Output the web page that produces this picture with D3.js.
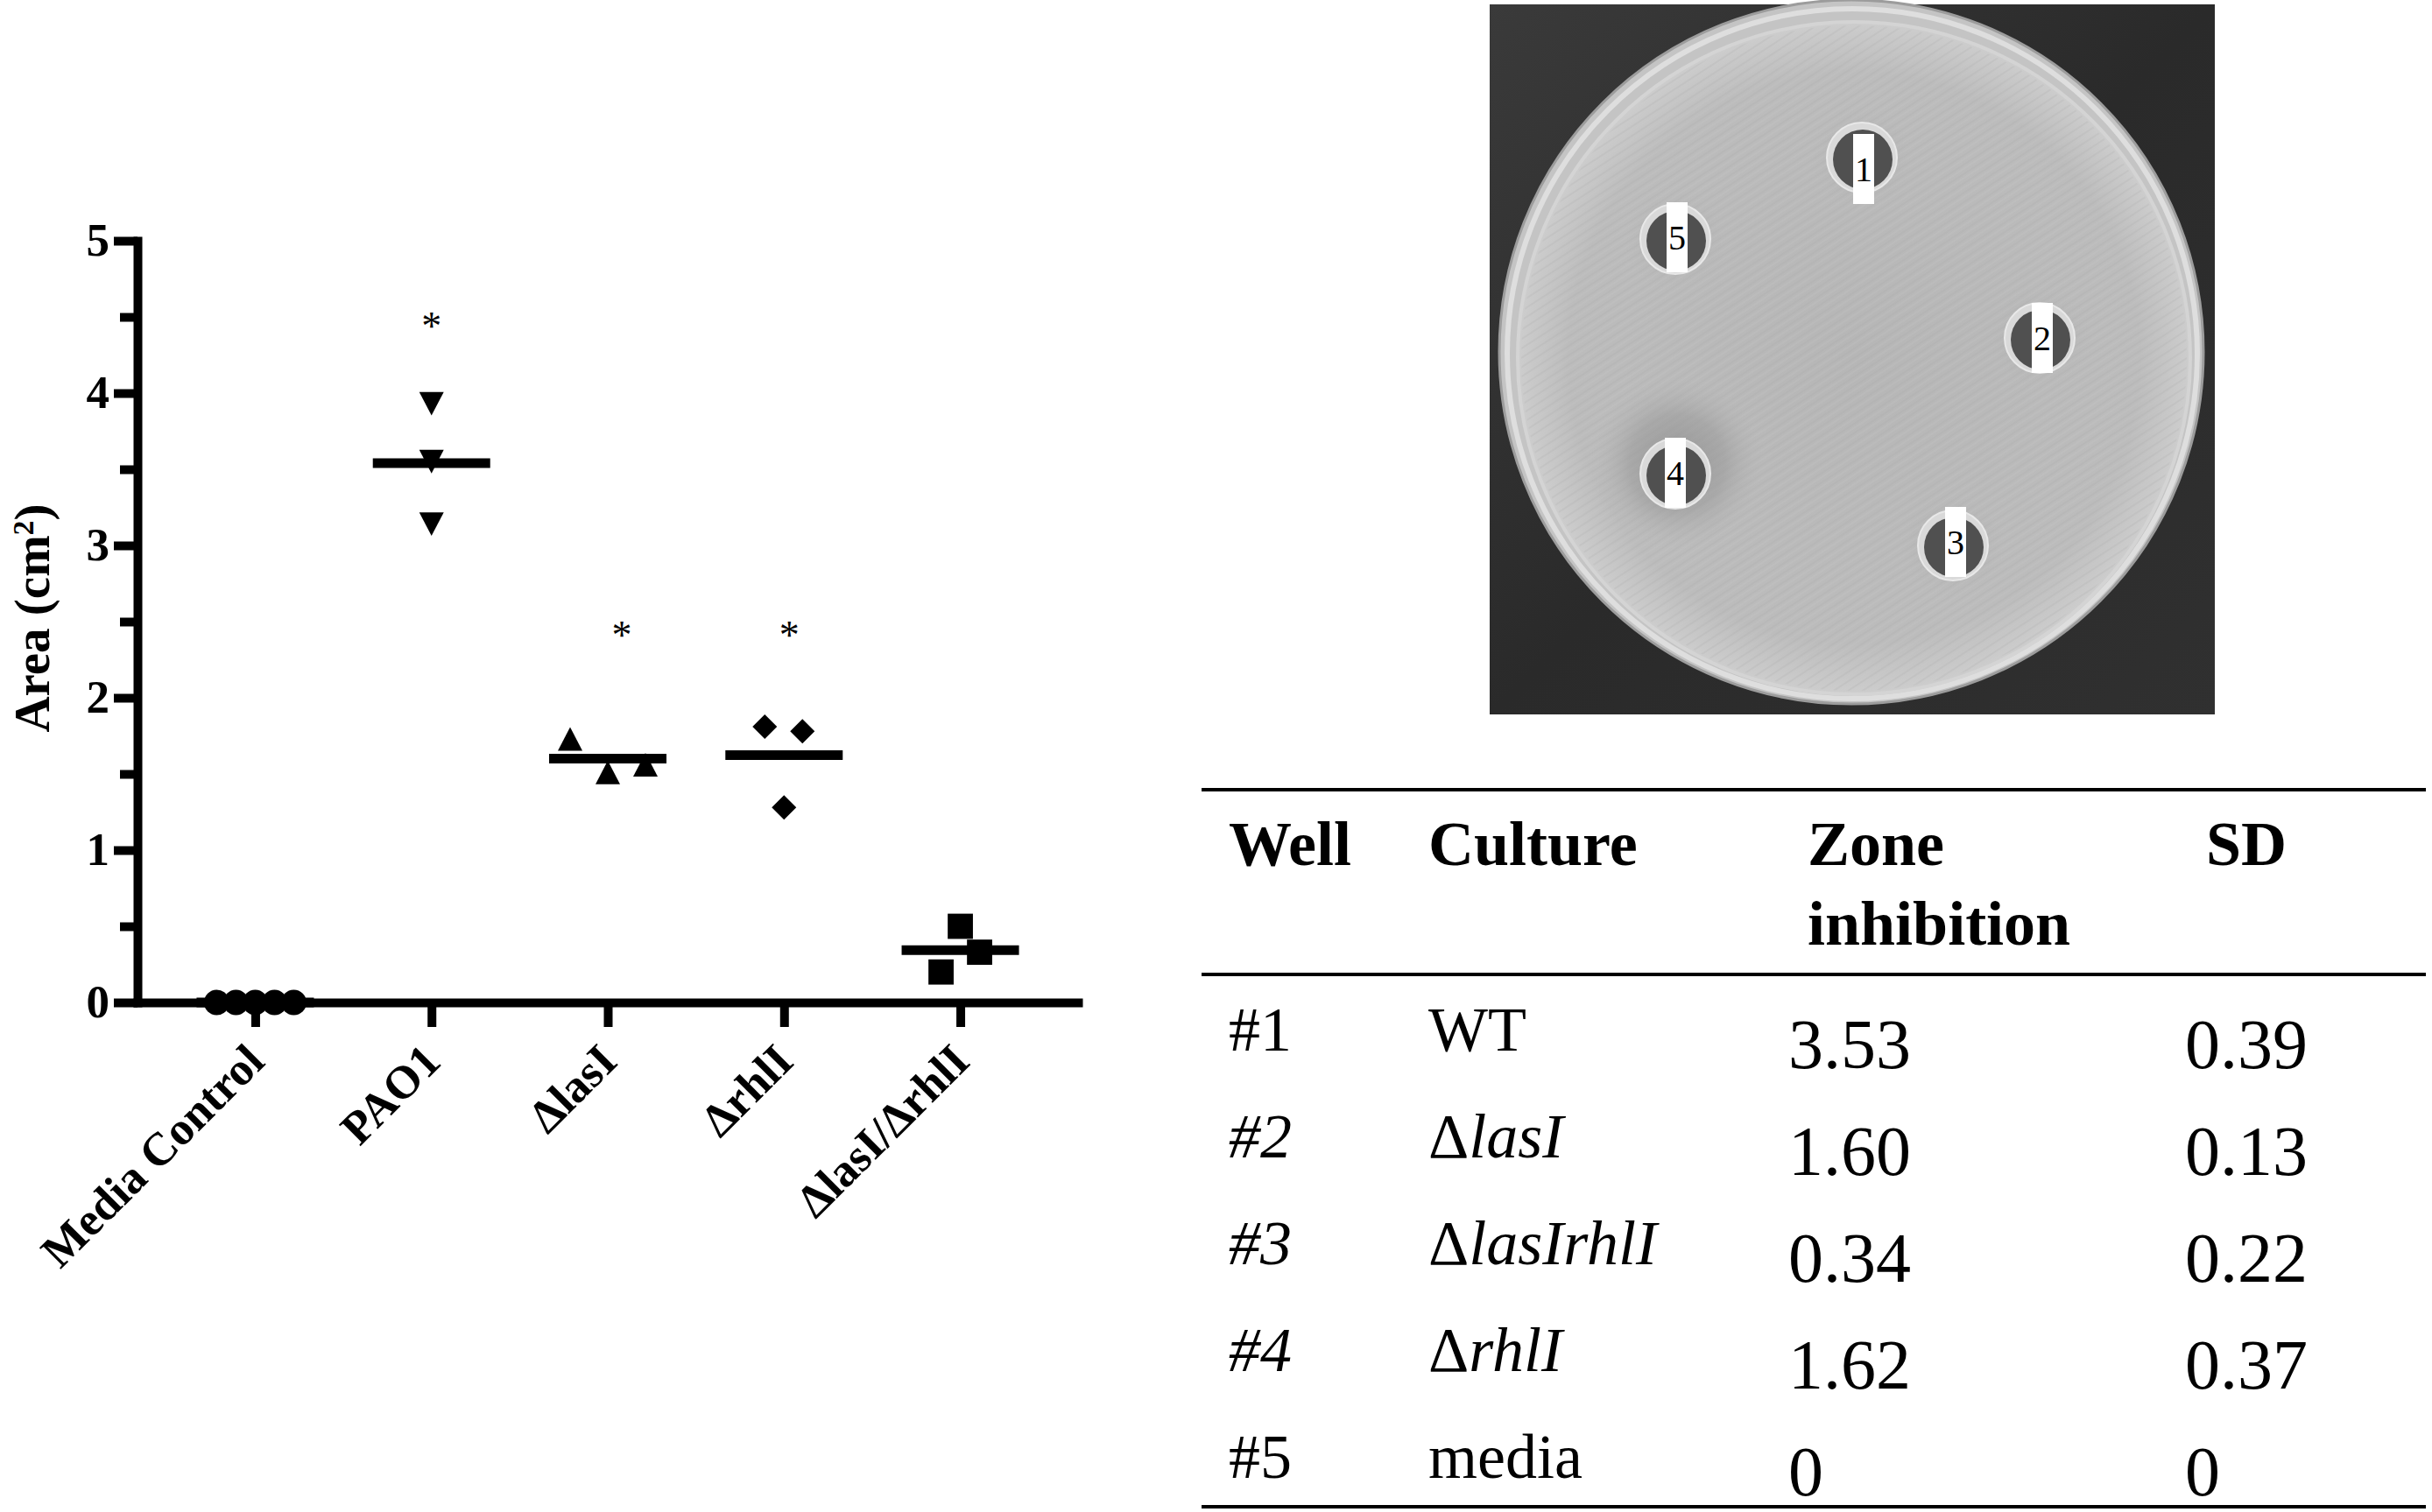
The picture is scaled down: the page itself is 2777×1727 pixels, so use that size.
<!DOCTYPE html>
<html>
<head>
<meta charset="utf-8">
<script src="https://cdn.jsdelivr.net/npm/d3@7"></script>
<style>
html,body{margin:0;padding:0;background:#fff;}
svg{display:block;}
</style>
</head>
<body>
<svg id="fig" width="2777" height="1727"></svg>
<script>
// ================= DATA =================
const categories = ["Media Control", "PAO1", "ΔlasI", "ΔrhlI", "ΔlasI/ΔrhlI"];
const mediaControl = [0, 0, 0, 0, 0];
const pao1 = [3.93, 3.55, 3.14];
const lasI = [1.73, 1.51, 1.56];
const rhlI = [1.81, 1.78, 1.28];
const lasIrhlI = [0.50, 0.33, 0.20];
const yTicks = [0, 1, 2, 3, 4, 5];
const yMinorTicks = [0.5, 1.5, 2.5, 3.5, 4.5];
const sigCategories = ["PAO1", "ΔlasI", "ΔrhlI"];
const sigLevels = [4.47, 2.445, 2.445];

const tableHeaders = ["Well", "Culture", "Zone", "SD"];
const tableHeader2 = ["", "", "inhibition", ""];
const wellIds = ["#1", "#2", "#3", "#4", "#5"];
const cultures = ["WT", "ΔlasI", "ΔlasIrhlI", "ΔrhlI", "media"];
const zoneMeans = [3.53, 1.60, 0.34, 1.62, 0];
const zoneSDs = [0.39, 0.13, 0.22, 0.37, 0];
const plateWells = ["1", "2", "3", "4", "5"];

// ================= LAYOUT (not data) =================
const SERIF = "'Liberation Serif','Times New Roman',Times,serif";
const seriesValues = [mediaControl, pao1, lasI, rhlI, lasIrhlI];
const jitter = [[-44, -22, 0, 22, 44], [0, 0, 0], [-43, 0, 43], [-22, 21, 0], [0, 22, -22]];
const sigDx = [0, 16, 6];
const wellItalic = [false, true, true, true, false];
const cultureParts = [
  [["WT", false]],
  [["Δ", false], ["lasI", true]],
  [["Δ", false], ["lasIrhlI", true]],
  [["Δ", false], ["rhlI", true]],
  [["media", false]]
];
const wellCenters = [[2126, 180], [2329, 386], [2230, 623], [1913, 541], [1913, 273]];
const wellTags = [[2128, 193], [2332, 386], [2233, 619], [1913, 540], [1915, 271]];

const svg = d3.select("#fig");
const defs = svg.append("defs");

// ================= SCATTER CHART =================
const x = d3.scalePoint().domain(categories).range([157, 1231]).padding(0.668);
const y = d3.scaleLinear().domain([0, 5]).range([1145, 275]);

// custom marker shapes (size = half-width)
const shapes = {
  circle: { draw(c, s) { c.moveTo(s, 0); c.arc(0, 0, s, 0, 2 * Math.PI); } },
  down: { draw(c, s) { c.moveTo(-s, -s * 0.96); c.lineTo(s, -s * 0.96); c.lineTo(0, s * 0.96); c.closePath(); } },
  up: { draw(c, s) { c.moveTo(-s, s * 0.96); c.lineTo(s, s * 0.96); c.lineTo(0, -s * 0.96); c.closePath(); } },
  diamond: { draw(c, s) { c.moveTo(0, -s); c.lineTo(s, 0); c.lineTo(0, s); c.lineTo(-s, 0); c.closePath(); } },
  square: { draw(c, s) { c.rect(-s, -s, 2 * s, 2 * s); } }
};
const markerType = [shapes.circle, shapes.down, shapes.up, shapes.diamond, shapes.square];
const markerSize = [14.5, 14, 14, 14, 14.4];

// Y axis
const gy = svg.append("g").attr("transform", "translate(157,0)")
  .call(d3.axisLeft(y).tickValues(yTicks).tickSize(27).tickSizeOuter(0).tickPadding(5).tickFormat(d3.format("d")));
gy.attr("font-size", 53).attr("font-family", SERIF).attr("font-weight", "bold");
gy.select(".domain").attr("stroke-width", 10).attr("stroke-linecap", "square").attr("stroke", "#000");
gy.selectAll(".tick line").attr("stroke-width", 10).attr("stroke", "#000");
gy.selectAll(".tick text").attr("fill", "#000");

const gyMinor = svg.append("g").attr("transform", "translate(157,0)")
  .call(d3.axisLeft(y).tickValues(yMinorTicks).tickSize(20).tickSizeOuter(0).tickFormat(""));
gyMinor.select(".domain").remove();
gyMinor.selectAll(".tick line").attr("stroke-width", 10).attr("stroke", "#000");

// X axis
const gx = svg.append("g").attr("transform", "translate(0,1145)")
  .call(d3.axisBottom(x).tickSize(28).tickSizeOuter(0).tickFormat(""));
gx.select(".domain").attr("stroke-width", 10).attr("stroke-linecap", "square").attr("stroke", "#000");
gx.selectAll(".tick line").attr("stroke-width", 10).attr("stroke", "#000");

// X labels (rotated)
svg.append("g").selectAll("text").data(categories).join("text")
  .attr("transform", d => `translate(${x(d) + 13},1215) rotate(-45)`)
  .attr("text-anchor", "end")
  .attr("font-family", SERIF).attr("font-weight", "bold").attr("font-size", 53)
  .attr("fill", "#000")
  .text(d => d);

// Y label
const yl = svg.append("text")
  .attr("transform", "translate(56,706) rotate(-90)")
  .attr("text-anchor", "middle")
  .attr("font-family", SERIF).attr("font-weight", "bold").attr("font-size", 57)
  .attr("fill", "#000");
yl.append("tspan").text("Area (cm");
yl.append("tspan").attr("font-size", 34).attr("baseline-shift", "super").text("2");
yl.append("tspan").text(")");

// mean lines
const meanG = svg.append("g");
categories.forEach((c, ci) => {
  const m = d3.mean(seriesValues[ci]);
  meanG.append("line")
    .attr("x1", x(c) - 67).attr("x2", x(c) + 67)
    .attr("y1", y(m)).attr("y2", y(m))
    .attr("stroke", "#000").attr("stroke-width", 11);
});

// points
const ptsG = svg.append("g");
categories.forEach((c, ci) => {
  ptsG.selectAll(null).data(seriesValues[ci]).join("path")
    .attr("transform", (v, i) => `translate(${x(c) + jitter[ci][i]},${y(v)})`)
    .attr("d", d3.symbol().type(markerType[ci]).size(markerSize[ci]))
    .attr("fill", "#000");
});

// significance asterisks
svg.append("g").selectAll("text").data(sigCategories).join("text")
  .attr("x", (c, i) => x(c) + sigDx[i])
  .attr("y", (c, i) => y(sigLevels[i]) + 21)
  .attr("text-anchor", "middle")
  .attr("font-family", SERIF).attr("font-size", 46).attr("fill", "#000")
  .text("*");

// ================= PHOTO (petri dish) =================
const photo = svg.append("g");
const pg = defs.append("radialGradient").attr("id", "agar").attr("cx", "50%").attr("cy", "50%").attr("r", "50%");
pg.append("stop").attr("offset", "0%").attr("stop-color", "#b6b6b6");
pg.append("stop").attr("offset", "85%").attr("stop-color", "#bcbcbc");
pg.append("stop").attr("offset", "100%").attr("stop-color", "#cdcdcd");

const halo = defs.append("radialGradient").attr("id", "halo");
halo.append("stop").attr("offset", "0%").attr("stop-color", "#8e8e8e").attr("stop-opacity", 0.8);
halo.append("stop").attr("offset", "55%").attr("stop-color", "#9a9a9a").attr("stop-opacity", 0.55);
halo.append("stop").attr("offset", "100%").attr("stop-color", "#b8b8b8").attr("stop-opacity", 0);

const halo2 = defs.append("radialGradient").attr("id", "halo2");
halo2.append("stop").attr("offset", "0%").attr("stop-color", "#a4a4a4").attr("stop-opacity", 0.6);
halo2.append("stop").attr("offset", "100%").attr("stop-color", "#b8b8b8").attr("stop-opacity", 0);

const streak = defs.append("pattern").attr("id", "streaks").attr("patternUnits", "userSpaceOnUse")
  .attr("width", 9).attr("height", 9).attr("patternTransform", "rotate(-33)");
streak.append("line").attr("x1", 0).attr("y1", 2).attr("x2", 9).attr("y2", 2)
  .attr("stroke", "#a9a9a9").attr("stroke-width", 1.2);
streak.append("line").attr("x1", 0).attr("y1", 6).attr("x2", 9).attr("y2", 6)
  .attr("stroke", "#cacaca").attr("stroke-width", 1);

const bgGrad = defs.append("linearGradient").attr("id", "bg").attr("x1", 0).attr("y1", 0).attr("x2", 1).attr("y2", 1);
bgGrad.append("stop").attr("offset", "0%").attr("stop-color", "#3a3a3a");
bgGrad.append("stop").attr("offset", "50%").attr("stop-color", "#2a2a2a");
bgGrad.append("stop").attr("offset", "100%").attr("stop-color", "#303030");

photo.append("rect").attr("x", 1701).attr("y", 5).attr("width", 828).attr("height", 811).attr("fill", "url(#bg)");
// outer dish rim
photo.append("circle").attr("cx", 2114).attr("cy", 402).attr("r", 402)
  .attr("fill", "#c4c4c4").attr("stroke", "#9c9c9c").attr("stroke-width", 3);
photo.append("circle").attr("cx", 2115).attr("cy", 404).attr("r", 394)
  .attr("fill", "none").attr("stroke", "#dedede").attr("stroke-width", 6);
// agar
photo.append("circle").attr("cx", 2117).attr("cy", 409).attr("r", 384)
  .attr("fill", "url(#agar)").attr("stroke", "#d4d4d4").attr("stroke-width", 4);
photo.append("circle").attr("cx", 2117).attr("cy", 409).attr("r", 380)
  .attr("fill", "url(#streaks)").attr("opacity", 0.35);

// halos (zones of inhibition)
photo.append("g").selectAll("circle").data(plateWells).join("circle")
  .attr("cx", (d, i) => wellCenters[i][0] + (d === "4" ? 2 : 0))
  .attr("cy", (d, i) => wellCenters[i][1] - (d === "4" ? 12 : 0))
  .attr("r", d => d === "4" ? 100 : 60)
  .attr("fill", d => d === "4" ? "url(#halo)" : "url(#halo2)");

// wells
const wg = photo.append("g").selectAll("g").data(plateWells).join("g");
wg.append("circle")
  .attr("cx", (d, i) => wellCenters[i][0]).attr("cy", (d, i) => wellCenters[i][1])
  .attr("r", 40).attr("fill", "#d9d9d9").attr("stroke", "#e8e8e8").attr("stroke-width", 2);
wg.append("circle")
  .attr("cx", (d, i) => wellCenters[i][0] + 1).attr("cy", (d, i) => wellCenters[i][1] + 2)
  .attr("r", 34).attr("fill", "#505050");
wg.append("rect")
  .attr("x", (d, i) => wellTags[i][0] - 12).attr("y", (d, i) => wellTags[i][1] - 40)
  .attr("width", 24).attr("height", 80).attr("fill", "#fff");
wg.append("text")
  .attr("x", (d, i) => wellTags[i][0]).attr("y", (d, i) => wellTags[i][1] + 14)
  .attr("text-anchor", "middle")
  .attr("font-family", SERIF).attr("font-size", 40).attr("fill", "#000")
  .text(d => d);

// ================= TABLE =================
const tbl = svg.append("g").attr("font-family", SERIF).attr("fill", "#000");
const colX = [1403, 1631, 2064, 2519];
const numX = [2042, 2495];
const rowY = d3.scalePoint().domain(wellIds).range([1200, 1688]);

[902, 1113, 1721].forEach(yy => {
  tbl.append("line").attr("x1", 1372).attr("x2", 2770).attr("y1", yy).attr("y2", yy)
    .attr("stroke", "#000").attr("stroke-width", 4);
});

tbl.selectAll("text.h1").data(tableHeaders).join("text").attr("class", "h1")
  .attr("x", (d, i) => colX[i]).attr("y", 988)
  .attr("font-weight", "bold").attr("font-size", 72).text(d => d);
tbl.selectAll("text.h2").data(tableHeader2).join("text").attr("class", "h2")
  .attr("x", (d, i) => colX[i]).attr("y", 1079)
  .attr("font-weight", "bold").attr("font-size", 72).text(d => d);

tbl.selectAll("text.well").data(wellIds).join("text").attr("class", "well")
  .attr("x", colX[0]).attr("y", d => rowY(d))
  .attr("font-size", 72).attr("font-style", (d, i) => wellItalic[i] ? "italic" : "normal")
  .text(d => d);

const cult = tbl.selectAll("text.cult").data(cultures).join("text").attr("class", "cult")
  .attr("x", colX[1]).attr("y", (d, i) => rowY(wellIds[i]))
  .attr("font-size", 72);
cult.each(function (d, i) {
  d3.select(this).selectAll("tspan").data(cultureParts[i]).join("tspan")
    .attr("font-style", p => p[1] ? "italic" : "normal")
    .text(p => p[0]);
});

const fmt = v => v === 0 ? "0" : d3.format(".2f")(v);
tbl.selectAll("text.zone").data(zoneMeans).join("text").attr("class", "zone")
  .attr("x", numX[0]).attr("y", (d, i) => rowY(wellIds[i]) + 20)
  .attr("font-size", 80).text(fmt);
tbl.selectAll("text.sd").data(zoneSDs).join("text").attr("class", "sd")
  .attr("x", numX[1]).attr("y", (d, i) => rowY(wellIds[i]) + 20)
  .attr("font-size", 80).text(fmt);
</script>
</body>
</html>
